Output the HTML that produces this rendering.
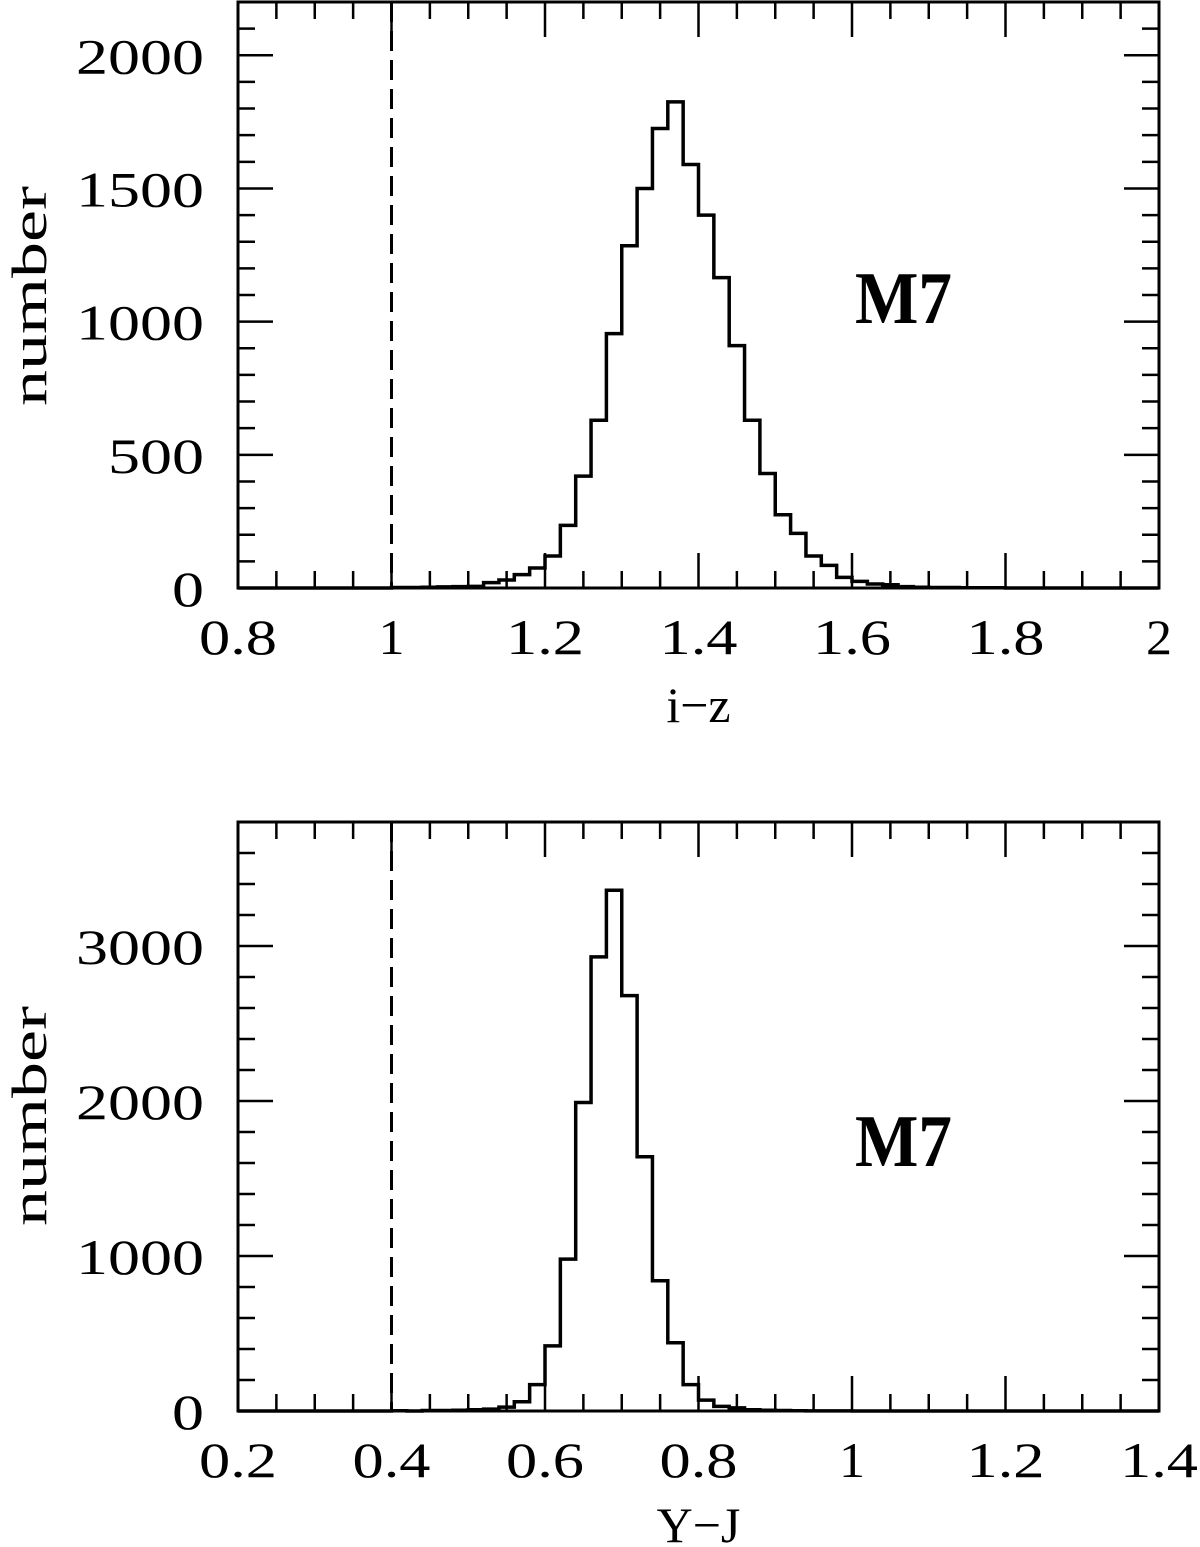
<!DOCTYPE html>
<html><head><meta charset="utf-8"><style>
html,body{margin:0;padding:0;background:#fff}
svg{display:block}
text{font-family:"Liberation Serif",serif;fill:#000}
</style></head><body>
<svg id="chart" width="1200" height="1547" viewBox="0 0 1200 1547" xmlns="http://www.w3.org/2000/svg"></svg>
<script>
// Top panel data (i-z), bins of width 0.02 starting at topStart
const topStart = 1.00;
const topCounts = [2,2,3,4,5,6,20,30,50,75,120,235,420,630,955,1285,1500,1725,1825,1590,1400,1165,910,630,430,275,205,120,85,40,25,15,12,5,3,2,2,1,1,1];
const topXTicks = ["0.8","1","1.2","1.4","1.6","1.8","2"];
const topYTicks = ["0","500","1000","1500","2000"];
// Bottom panel data (Y-J)
const botStart = 0.40;
const botCounts = [2,0,3,3,5,8,12,25,60,170,420,980,1990,2930,3360,2680,1640,840,440,170,70,30,20,8,5,3,2,1,1,1];
const botXTicks = ["0.2","0.4","0.6","0.8","1","1.2","1.4"];
const botYTicks = ["0","1000","2000","3000"];

const svg = document.getElementById('chart');
const NS = 'http://www.w3.org/2000/svg';
function mk(tag, attrs){const e=document.createElementNS(NS,tag);for(const k in attrs)e.setAttribute(k,attrs[k]);svg.appendChild(e);return e;}

function panel(cfg){
  const {L,R,T,B,xmin,xmax,ymax,xMajor,xMinor,yMajor,yMinor,xTicks,yTicks,start,counts,cut,xtitle,xtitleY,prefix,m7y,numY}=cfg;
  const X=v=>L+(v-xmin)/(xmax-xmin)*(R-L);
  const Y=v=>B-v/ymax*(B-T);
  let e;
  // ticks
  let d='';
  for(let v=xmin; v<=xmax+1e-9; v+=xMinor){
    const major=Math.abs(Math.round(v/xMajor)*xMajor-v)<1e-6;
    const len=major?35:17;
    const x=X(v);
    d+=`M${x} ${B}V${B-len}M${x} ${T}V${T+len}`;
  }
  for(let v=0; v<=ymax+1e-9; v+=yMinor){
    const major=Math.abs(Math.round(v/yMajor)*yMajor-v)<1e-6;
    const len=major?35:17;
    const y=Y(v);
    d+=`M${L} ${y}H${L+len}M${R} ${y}H${R-len}`;
  }
  e=mk('path',{d:d,stroke:'#000','stroke-width':2.5,fill:'none'});
  
  
  // histogram
  let p=`M${L} ${Y(0)}H${X(start)}`;
  const w=0.02;
  counts.forEach((c,i)=>{const x0=X(start+i*w),x1=X(start+(i+1)*w);p+=`V${Y(c)}H${x1}`;});
  p+=`V${Y(0)}H${R}`;
  e=mk('path',{d:p,stroke:'#000','stroke-width':3.5,fill:'none','stroke-linejoin':'miter'});
  
  
  // dashed cut line
  e=mk('line',{x1:X(cut),x2:X(cut),y1:T,y2:B,stroke:'#000','stroke-width':3,'stroke-dasharray':'20 9'});
  
  
  // frame
  e=mk('rect',{x:L,y:T,width:R-L,height:B-T,fill:'none',stroke:'#000','stroke-width':3});
  
  
  // x labels
  xTicks.forEach((t,i)=>{
    const v=xmin+i*xMajor;
    const tx=mk('text',{x:X(v),y:B+66,'font-size':50,'text-anchor':'middle',textLength:t.length*26,lengthAdjust:'spacingAndGlyphs'});
    tx.textContent=t;
    
    
  });
  yTicks.forEach((t,i)=>{
    const v=i*yMajor;
    const tx=mk('text',{x:204,y:Y(v)+18,'font-size':50,'text-anchor':'end',textLength:t.length*32,lengthAdjust:'spacingAndGlyphs'});
    tx.textContent=t;
    
    
  });
  e=mk('text',{x:(L+R)/2,y:xtitleY,'font-size':50,'text-anchor':'middle'});
  e.textContent=xtitle;
  
  
  e=mk('text',{x:0,y:0,'font-size':50,'text-anchor':'middle',textLength:220,lengthAdjust:'spacingAndGlyphs',transform:`translate(46 ${numY}) rotate(-90)`});
  e.textContent='number';
  
  
  e=mk('text',{x:855,y:m7y,'font-size':74,'font-weight':'bold',textLength:97,lengthAdjust:'spacingAndGlyphs'});
  e.textContent='M7';
  
  
}
panel({L:238,R:1159,T:2,B:588,xmin:0.8,xmax:2.0,ymax:2200,xMajor:0.2,xMinor:0.05,yMajor:500,yMinor:100,
  xTicks:topXTicks,yTicks:topYTicks,start:topStart,counts:topCounts,cut:1.0,xtitle:'i\u2212z',xtitleY:722,prefix:'top',m7y:323,numY:296});
panel({L:238,R:1159,T:822,B:1411,xmin:0.2,xmax:1.4,ymax:3800,xMajor:0.2,xMinor:0.05,yMajor:1000,yMinor:200,
  xTicks:botXTicks,yTicks:botYTicks,start:botStart,counts:botCounts,cut:0.4,xtitle:'Y\u2212J',xtitleY:1542,prefix:'bottom',m7y:1166,numY:1116});
</script>
</body></html>
